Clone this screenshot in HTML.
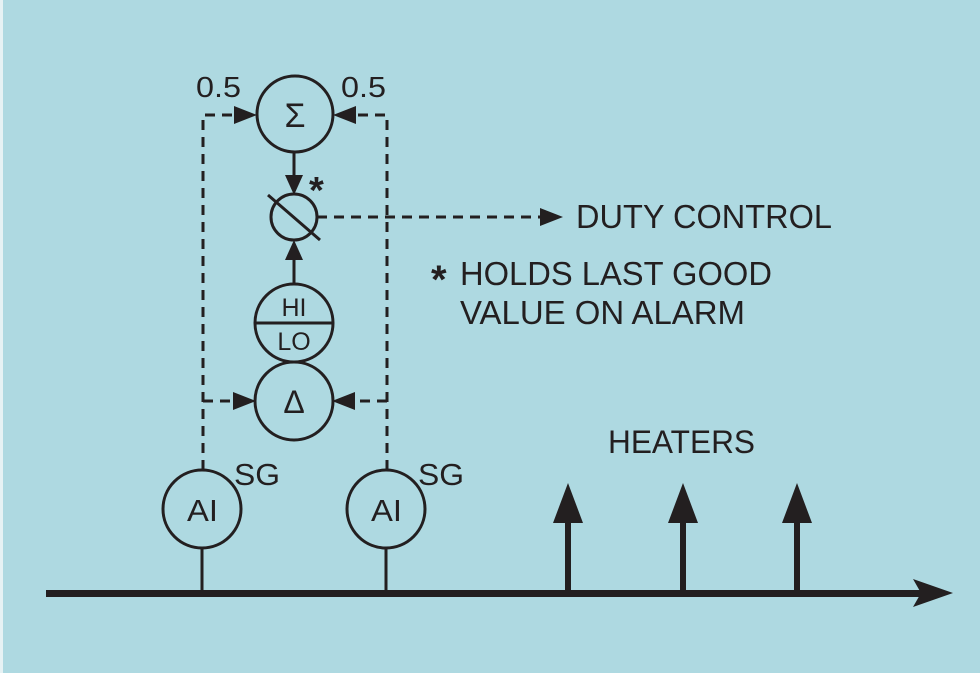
<!DOCTYPE html>
<html><head><style>
html,body{margin:0;padding:0;background:#aed9e1;}
svg{display:block}
text{font-family:"Liberation Sans",Arial,sans-serif;fill:#231f20}
</style></head><body>
<svg width="980" height="673" viewBox="0 0 980 673" xmlns="http://www.w3.org/2000/svg">
<rect x="0" y="0" width="980" height="673" fill="#aed9e1"/>
<rect x="0" y="0" width="3" height="673" fill="#e6f2f4"/>
<g stroke="#231f20" fill="none" stroke-width="3">
 <g stroke-dasharray="10,7">
  <path d="M203 470 V115 H236"/>
  <path d="M387 470 V115 H352"/>
  <path d="M203 401 H236"/>
  <path d="M387 401 H352"/>
  <path d="M317 217 H545"/>
 </g>
 <circle cx="295" cy="114" r="38"/>
 <circle cx="294" cy="217" r="23"/>
 <line x1="268" y1="195" x2="320" y2="240"/>
 <circle cx="294" cy="323" r="39"/>
 <line x1="255" y1="323" x2="333" y2="323"/>
 <circle cx="294" cy="401" r="39"/>
 <circle cx="202" cy="509" r="39"/>
 <circle cx="386" cy="509" r="39"/>
 <line x1="202" y1="548" x2="202" y2="593"/>
 <line x1="386" y1="548" x2="386" y2="593"/>
 <line x1="294" y1="152" x2="294" y2="180"/>
 <line x1="294" y1="284" x2="294" y2="255"/>
</g>
<g fill="#231f20">
 <polygon points="257,115 234,106 234,124"/>
 <polygon points="333,115 356,106 356,124"/>
 <polygon points="256,401 233,392 233,410"/>
 <polygon points="332,401 355,392 355,410"/>
 <polygon points="294,195 285,175 303,175"/>
 <polygon points="294,240 285,260 303,260"/>
 <polygon points="563,217 540,208 540,226"/>
 <rect x="46" y="590" width="875" height="7"/>
 <polygon points="953,593 913,579 921,593 913,607"/>
 <rect x="565" y="515" width="6" height="78"/>
 <rect x="680" y="515" width="6" height="78"/>
 <rect x="794" y="515" width="6" height="78"/>
 <polygon points="568,483 553,523 583,523"/>
 <polygon points="683,483 668,523 698,523"/>
 <polygon points="797,483 782,523 812,523"/>
</g>
<g font-size="33">
 <text x="196" y="97" font-size="29" textLength="45" lengthAdjust="spacingAndGlyphs">0.5</text>
 <text x="341" y="97" font-size="29" textLength="45" lengthAdjust="spacingAndGlyphs">0.5</text>
 <text x="295" y="127" font-size="34" text-anchor="middle">Σ</text>
 <text x="309" y="203" font-size="38" font-weight="bold">*</text>
 <text x="294" y="316" font-size="25" text-anchor="middle">HI</text>
 <text x="294" y="350" font-size="25" text-anchor="middle">LO</text>
 <text x="294" y="413" font-size="32" text-anchor="middle">Δ</text>
 <text x="187" y="521" font-size="31" textLength="31" lengthAdjust="spacingAndGlyphs">AI</text>
 <text x="371" y="521" font-size="31" textLength="31" lengthAdjust="spacingAndGlyphs">AI</text>
 <text x="234" y="485" font-size="31" textLength="46" lengthAdjust="spacingAndGlyphs">SG</text>
 <text x="418" y="485" font-size="31" textLength="46" lengthAdjust="spacingAndGlyphs">SG</text>
 <text x="576" y="228" textLength="256" lengthAdjust="spacingAndGlyphs">DUTY CONTROL</text>
 <text x="431" y="293" font-size="40" font-weight="bold">*</text>
 <text x="460" y="285" textLength="312" lengthAdjust="spacingAndGlyphs">HOLDS LAST GOOD</text>
 <text x="460" y="324" textLength="285" lengthAdjust="spacingAndGlyphs">VALUE ON ALARM</text>
 <text x="608" y="453" font-size="32" textLength="147" lengthAdjust="spacingAndGlyphs">HEATERS</text>
</g>
</svg>
</body></html>
